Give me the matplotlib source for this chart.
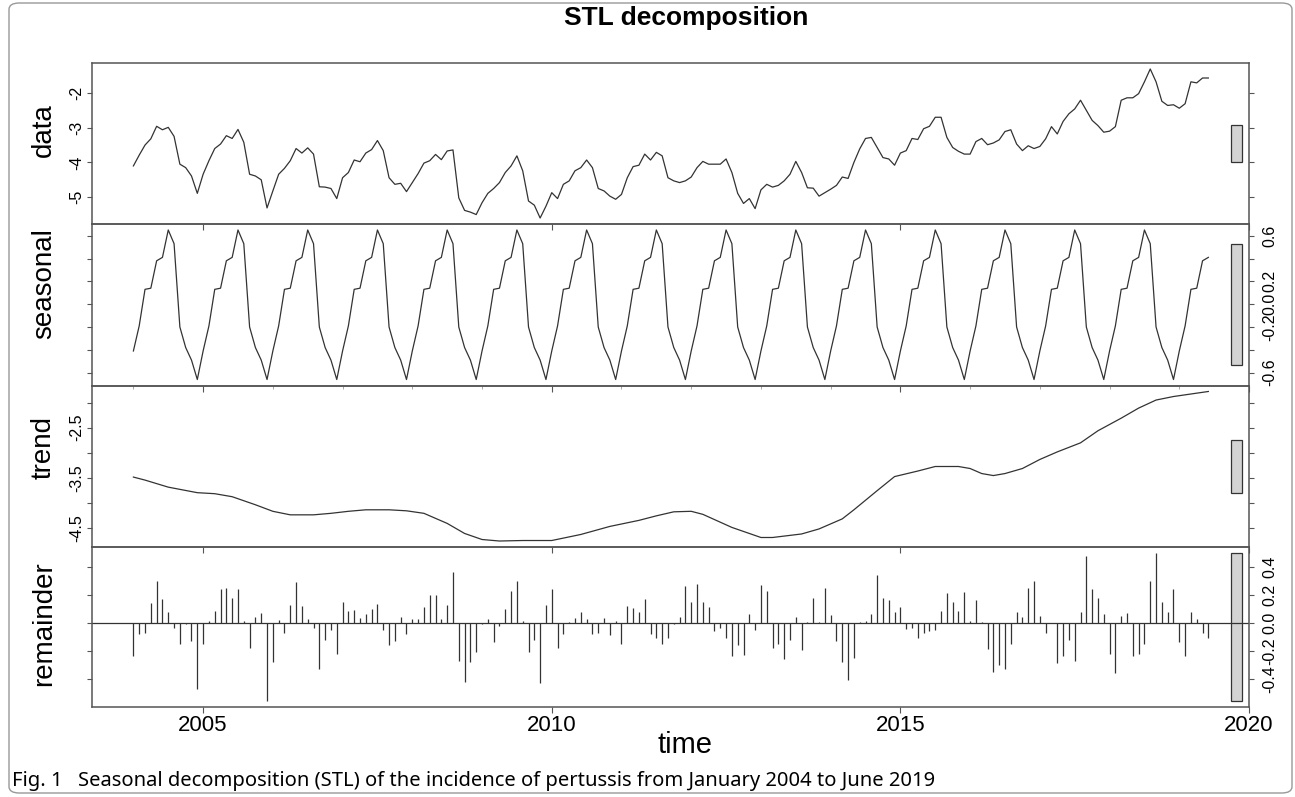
import numpy as np
import matplotlib.pyplot as plt
from matplotlib.patches import Rectangle, FancyBboxPatch

plt.rcParams['font.family'] = ['Liberation Sans', 'DejaVu Sans']

# monthly series, January 2004 .. June 2019
start_year = 2004

data_vals = [
    -4.10, -3.79, -3.50, -3.32, -2.96, -3.06, -2.99, -3.25, -4.05, -4.15, -4.39, -4.89,
    -4.34, -3.95, -3.60, -3.47, -3.23, -3.31, -3.05, -3.42, -4.34, -4.39, -4.50, -5.31,
    -4.82, -4.34, -4.17, -3.95, -3.60, -3.73, -3.58, -3.76, -4.70, -4.71, -4.75, -5.04,
    -4.44, -4.29, -3.93, -3.98, -3.73, -3.63, -3.37, -3.66, -4.44, -4.63, -4.60, -4.84,
    -4.58, -4.32, -4.02, -3.95, -3.77, -3.92, -3.67, -3.64, -5.02, -5.38, -5.43, -5.50,
    -5.16, -4.89, -4.75, -4.58, -4.29, -4.10, -3.81, -4.24, -5.11, -5.23, -5.60, -5.26,
    -4.87, -5.04, -4.63, -4.53, -4.24, -4.15, -3.93, -4.15, -4.75, -4.82, -4.97, -5.06,
    -4.92, -4.44, -4.12, -4.08, -3.76, -3.93, -3.71, -3.81, -4.44, -4.53, -4.58, -4.53,
    -4.42, -4.15, -3.97, -4.05, -4.05, -4.05, -3.90, -4.29, -4.89, -5.18, -5.04, -5.33,
    -4.79, -4.63, -4.71, -4.66, -4.53, -4.34, -3.97, -4.29, -4.73, -4.74, -4.97, -4.87,
    -4.77, -4.66, -4.42, -4.46, -4.00, -3.61, -3.31, -3.28, -3.57, -3.86, -3.90, -4.08,
    -3.73, -3.66, -3.31, -3.34, -3.03, -2.96, -2.70, -2.70, -3.28, -3.57, -3.68, -3.76,
    -3.76, -3.40, -3.31, -3.49, -3.44, -3.35, -3.11, -3.06, -3.47, -3.66, -3.52, -3.60,
    -3.54, -3.32, -2.97, -3.18, -2.82, -2.60, -2.46, -2.21, -2.50, -2.79, -2.94, -3.13,
    -3.10, -2.97, -2.21, -2.14, -2.14, -2.02, -1.68, -1.31, -1.68, -2.24, -2.36, -2.34,
    -2.44, -2.31, -1.68, -1.71, -1.57, -1.57,
]

# periodic seasonal component, Jan..Dec
season_month = [-0.41, -0.19, 0.13, 0.14, 0.38, 0.41, 0.65, 0.53, -0.20, -0.38, -0.49, -0.66]

# trend read at selected months (index from Jan 2004)
trend_month = [0, 2, 6, 11, 14, 17, 21, 24, 27, 31, 34, 37, 40, 44, 47, 50, 54, 57, 60, 63,
               67, 72, 77, 82, 87, 90, 93, 96, 98, 103, 108, 110, 115, 118, 122, 124, 128,
               131, 135, 138, 142, 144, 146, 148, 150, 153, 156, 159, 163, 166, 170, 173,
               176, 179, 182, 185]
trend_vals = [-3.48, -3.54, -3.68, -3.79, -3.81, -3.87, -4.03, -4.16, -4.23, -4.23, -4.20,
              -4.16, -4.13, -4.13, -4.15, -4.20, -4.40, -4.60, -4.72, -4.75, -4.74, -4.74,
              -4.62, -4.46, -4.34, -4.25, -4.17, -4.16, -4.22, -4.48, -4.68, -4.68, -4.61,
              -4.51, -4.31, -4.13, -3.75, -3.47, -3.36, -3.27, -3.27, -3.31, -3.41, -3.45,
              -3.41, -3.31, -3.13, -2.98, -2.80, -2.56, -2.31, -2.11, -1.95, -1.88, -1.83,
              -1.78]

remainder_vals = [
    -0.24, -0.08, -0.07, 0.14, 0.30, 0.17, 0.08, -0.035, -0.15, -0.01, -0.13, -0.475,
    -0.15, 0.016, 0.085, 0.24, 0.25, 0.18, 0.24, 0.01, -0.18, 0.045, 0.07, -0.56,
    -0.28, 0.02, -0.075, 0.13, 0.29, 0.12, 0.03, -0.035, -0.33, -0.125, -0.05, -0.22,
    0.15, 0.085, 0.095, 0.035, 0.065, 0.10, 0.135, -0.05, -0.16, -0.13, 0.04, -0.08,
    0.03, 0.03, 0.115, 0.20, 0.20, 0.03, 0.13, 0.36, -0.27, -0.42, -0.28, -0.21,
    -0.01, 0.03, -0.14, -0.02, 0.10, 0.23, 0.30, 0.014, -0.21, -0.12, -0.43, 0.13,
    0.24, -0.18, -0.08, 0.005, 0.035, 0.08, 0.026, -0.08, -0.07, 0.033, -0.087, 0.01,
    -0.15, 0.12, 0.106, 0.08, 0.17, -0.08, -0.11, -0.15, -0.11, -0.01, 0.045, 0.26,
    0.15, 0.28, 0.15, 0.11, -0.06, -0.035, -0.11, -0.24, -0.16, -0.23, 0.065, -0.05,
    0.27, 0.23, -0.18, -0.15, -0.26, -0.12, 0.04, -0.195, 0.007, 0.18, 0.007, 0.25,
    0.056, -0.13, -0.28, -0.41, -0.25, 0.007, 0.012, 0.066, 0.34, 0.18, 0.16, 0.08,
    0.11, -0.047, -0.035, -0.11, -0.07, -0.06, -0.05, 0.087, 0.21, 0.15, 0.087, 0.22,
    0.014, 0.16, 0.007, -0.19, -0.35, -0.30, -0.33, -0.15, 0.075, 0.042, 0.25, 0.30,
    0.052, -0.07, 0.0, -0.29, -0.24, -0.12, -0.27, 0.078, 0.48, 0.24, 0.18, 0.06,
    -0.22, -0.36, 0.05, 0.07, -0.235, -0.22, -0.15, 0.30, 0.50, 0.15, 0.078, 0.24,
    -0.14, -0.24, 0.08, 0.03, -0.075, -0.11,
]

year_ticks = [2005, 2010, 2015, 2020]

n = len(data_vals)
t = start_year + np.arange(n) / 12
seasonal_vals = np.tile(season_month, n // 12 + 1)[:n]
trend_t = start_year + np.array(trend_month) / 12
rem = np.array(remainder_vals)
bar_h = rem.max() - rem.min()

line_col = '#333333'
axis_col = '#555555'

fig = plt.figure(figsize=(12.95, 7.97), dpi=100)

left, width = 0.0707, 0.8938
# name, bottom, height, ticks, labels, label side, label y centre
panels = [
    ('data', 0.71895, 0.2020, [-5, -4, -3, -2], ['-5', '-4', '-3', '-2'], 'left', 0.8369),
    ('seasonal', 0.51631, 0.20264, [-0.6, -0.4, -0.2, 0.0, 0.2, 0.4, 0.6],
     ['-0.6', '', '-0.2', '0.0', '0.2', '', '0.6'], 'right', 0.6437),
    ('trend', 0.31368, 0.20263, [-4.5, -4.0, -3.5, -3.0, -2.5, -2.0],
     ['-4.5', '', '-3.5', '', '-2.5', ''], 'left', 0.4391),
    ('remainder', 0.11292, 0.20075, [-0.4, -0.2, 0.0, 0.2, 0.4],
     ['-0.4', '-0.2', '0.0', '0.2', '0.4'], 'right', 0.2171),
]

for k, (name, bottom, height, ticks, labels, side, ly) in enumerate(panels):
    ax = fig.add_axes([left, bottom, width, height])
    ax.patch.set_alpha(0)
    if name == 'data':
        y = np.array(data_vals)
        ax.plot(t, y, color=line_col, lw=0.9)
    elif name == 'seasonal':
        y = seasonal_vals
        ax.plot(t, y, color=line_col, lw=0.9)
    elif name == 'trend':
        y = np.array(trend_vals)
        ax.plot(trend_t, y, color=line_col, lw=0.9)
    else:
        y = rem
        ax.vlines(t, 0, y, color=line_col, lw=0.9)
        ax.axhline(0, color=line_col, lw=0.9)

    r = y.max() - y.min()
    lo, hi = y.min() - 0.04 * r, y.max() + 0.04 * r
    ax.set_ylim(lo, hi)
    ax.set_xlim(2003.40, 2020.0)

    mid = (lo + hi) / 2
    ax.add_patch(Rectangle((2019.74, mid - bar_h / 2), 0.16, bar_h, fc='#d3d3d3',
                           ec=line_col, lw=0.9))

    ax.set_yticks(ticks)
    ax.set_yticklabels(labels)
    ax.tick_params(axis='y', left=True, right=True, direction='out', length=3.5,
                   width=0.8, color=axis_col, labelsize=11.5,
                   pad=(2 if side == 'left' else 6),
                   labelleft=(side == 'left'), labelright=(side == 'right'),
                   labelrotation=90)
    for lab in ax.get_yticklabels():
        lab.set_va('center')

    ax.set_xticks(year_ticks)
    ax.tick_params(axis='x', direction='out', length=4, width=0.8, color=axis_col,
                   labelsize=16, pad=1.5, labelbottom=(k == 3))
    if name == 'seasonal':
        ax.set_xticks(np.arange(2004, 2020), minor=True)
        ax.tick_params(axis='x', which='minor', direction='out', length=2.5,
                       width=0.6, color='#999999')

    for sp in ax.spines.values():
        sp.set_color(axis_col)
        sp.set_linewidth(1.1)

    fig.text(44 / 1295, ly, name, rotation=90, fontsize=20, ha='center', va='center')

fig.text(686 / 1295, 1 - 18 / 797, 'STL decomposition', fontsize=19, fontweight='bold',
         ha='center', va='center')
fig.text(685 / 1295, 1 - 745 / 797, 'time', fontsize=21, ha='center', va='center')

fig.text(12 / 1295, 1 - 781 / 797, 'Fig. 1', fontsize=14.5, fontweight='bold',
         va='center', family=['Noto Sans', 'DejaVu Sans'])
fig.text(78 / 1295, 1 - 781 / 797,
         'Seasonal decomposition (STL) of the incidence of pertussis from January 2004 to June 2019',
         fontsize=14.5, va='center', family=['Noto Sans', 'DejaVu Sans'])

fig.add_artist(FancyBboxPatch((9 / 1295, 4 / 797), 1283 / 1295, 790 / 797,
                              boxstyle='round,pad=0,rounding_size=0.008',
                              transform=fig.transFigure, fill=False, ec='#999999', lw=1))

fig.savefig('out.png', dpi=100)
